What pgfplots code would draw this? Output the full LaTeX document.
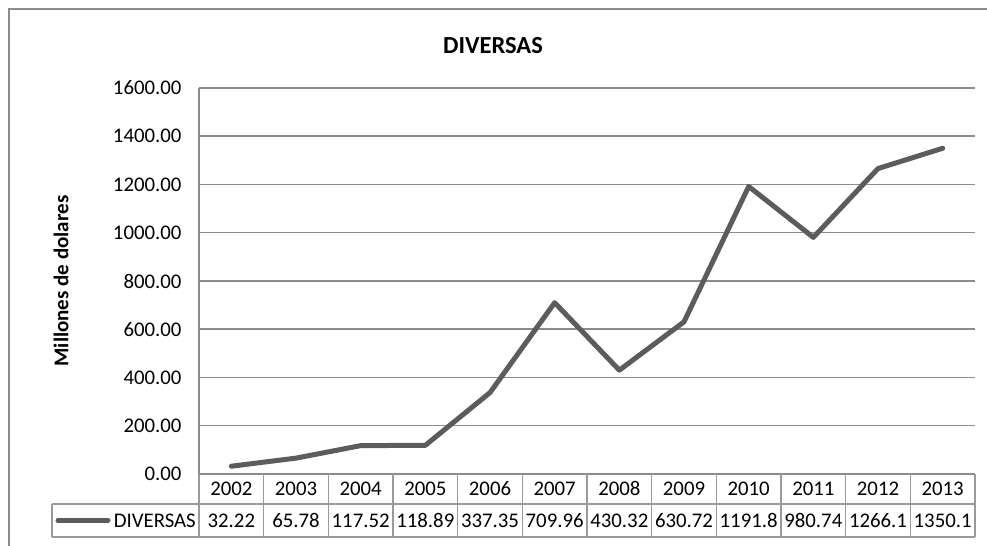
\documentclass[border=0pt]{standalone}
\usepackage{pgfplots}
\pgfplotsset{compat=1.18}
\usepackage{fontspec}
\setmainfont{Carlito}
\definecolor{gridc}{HTML}{8C8C8C}
\definecolor{linec}{HTML}{5C5C5C}
\definecolor{tabc}{HTML}{9A9A9A}
\begin{document}
\begin{tikzpicture}[x=1bp,y=1bp]
\useasboundingbox (0,0) rectangle (987,546);
% outer chart border (cropped)
\draw[gridc, line width=1.5bp] (9,0) -- (9,537) -- (987,537);
\begin{axis}[
  at={(199bp,72bp)}, anchor=south west,
  scale only axis, width=776bp, height=386bp,
  xmin=-0.5, xmax=11.5, ymin=0, ymax=1600,
  axis lines*=left, axis x line=none,
  y axis line style={gridc, line width=2bp},
  ytick={0,200,...,1600},
  ymajorgrids, grid style={gridc, line width=1.5bp},
  major tick length=0pt,
  yticklabel style={font=\fontsize{20.8bp}{23bp}\selectfont, xshift=-14bp},
  y tick label style={/pgf/number format/.cd, fixed, fixed zerofill, precision=2, 1000 sep={}, assume math mode=true},
  xtick=\empty,
  clip=false,
]
\addplot[linec, line width=5bp, line join=round, line cap=round] coordinates {
(0,32.22) (1,65.78) (2,117.52) (3,118.89) (4,337.35) (5,709.96)
(6,430.32) (7,630.72) (8,1191.8) (9,980.74) (10,1266.1) (11,1350.1)};
\end{axis}
% title and axis label
\node[font=\fontsize{24.5bp}{27bp}\selectfont\bfseries] at (493,500) {DIVERSAS};
\node[font=\fontsize{21bp}{23bp}\selectfont\bfseries, rotate=90] at (61,265) {Millones de dolares};
% data table
\begin{scope}[tabc, line width=1.5bp]
\draw (199,72) -- (199,9);
\draw (52,42) -- (975,42);
\draw (52,9) -- (975,9);
\draw (52,42) -- (52,9);
\foreach \i in {1,...,12} {
  \draw ({199+\i*776/12},72) -- ({199+\i*776/12},9);
}
\end{scope}
\draw[linec, line width=5bp, line cap=round] (58,25.5) -- (108,25.5);
\node[font=\fontsize{20.8bp}{23bp}\selectfont, anchor=base east, inner sep=0pt] at (196,18.5) {DIVERSAS};
\foreach \y [count=\i from 0] in {2002,2003,2004,2005,2006,2007,2008,2009,2010,2011,2012,2013} {
  \node[font=\fontsize{20.8bp}{23bp}\selectfont, anchor=base, inner sep=0pt] at ({199+(\i+0.5)*776/12},50) {\y};
}
\foreach \v [count=\i from 0] in {32.22,65.78,117.52,118.89,337.35,709.96,430.32,630.72,1191.8,980.74,1266.1,1350.1} {
  \node[font=\fontsize{20.8bp}{23bp}\selectfont, anchor=base, inner sep=0pt] at ({199+(\i+0.5)*776/12},18.5) {\v};
}
\end{tikzpicture}
\end{document}
